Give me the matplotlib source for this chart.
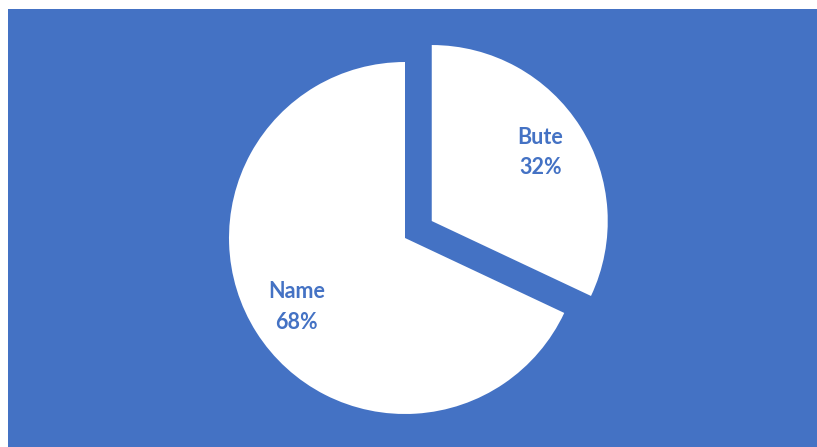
import matplotlib
matplotlib.use("Agg")
import matplotlib.pyplot as plt
from matplotlib.patches import Rectangle

categories = ["Bute", "Name"]
values = [32, 68]
explode_frac = [0.18, 0.0]

BLUE = "#4472C4"
W, H = 817, 447
RADIUS = 176

fig = plt.figure(figsize=(W / 100, H / 100), dpi=100, facecolor="white")
ax = fig.add_axes([0, 0, 1, 1])

# blue chart area
ax.add_patch(Rectangle((8, 0), W - 8, H - 9, facecolor=BLUE, edgecolor="none", zorder=0))

total = sum(values)
labels = [f"{c}\n{round(v / total * 100)}%" for c, v in zip(categories, values)]

wedges, texts = ax.pie(
    values,
    labels=labels,
    explode=[f * RADIUS for f in explode_frac],
    startangle=90,
    counterclock=False,
    colors=["white", "white"],
    center=(405, H - 238),
    radius=RADIUS,
    labeldistance=0.73,
    wedgeprops=dict(linewidth=0),
    frame=True,
)
ax.set_xlim(0, W)
ax.set_ylim(0, H)
ax.set_aspect("equal")
ax.axis("off")
for t in texts:
    t.set_ha("center")
    t.set_va("center")
    t.set_color(BLUE)
    t.set_fontfamily("Lato")
    t.set_fontweight("bold")
    t.set_fontsize(15.5)
    t.set_linespacing(1.55)
    t.set_multialignment("center")

fig.savefig("out.png", dpi=100, facecolor="white")
